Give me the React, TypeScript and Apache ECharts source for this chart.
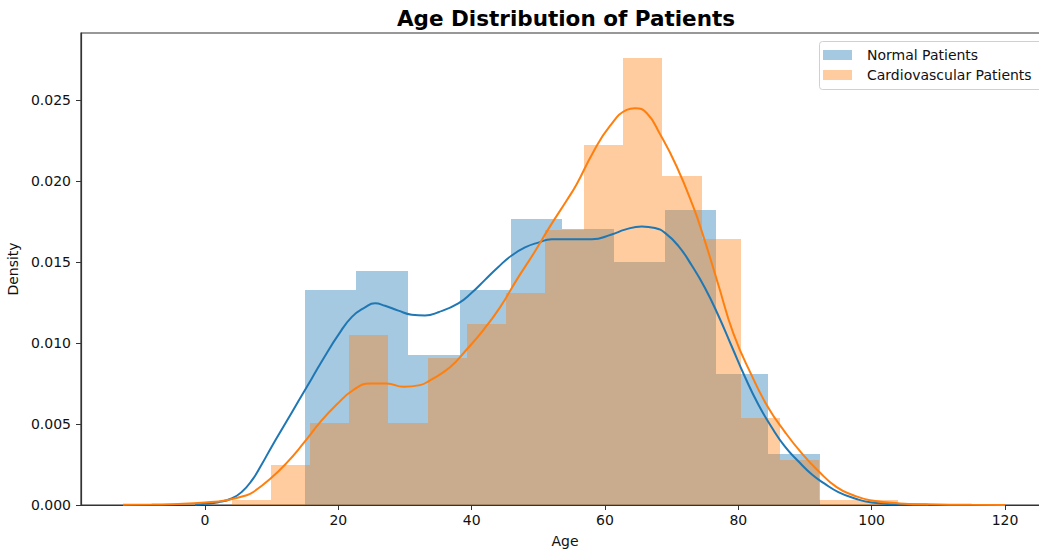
import React, { useEffect, useRef } from "react";
import * as echarts from "echarts";

// ---------- data ----------
const normalEdges = [15.0, 22.7, 30.4, 38.2, 45.9, 53.6, 61.3, 69.0, 76.7, 84.5, 92.2];
const normalDensity = [0.01327, 0.01444, 0.00926, 0.01327, 0.01765, 0.01704, 0.01502, 0.01823, 0.00806, 0.00313];

const cardioEdges = [4.0, 9.9, 15.75, 21.6, 27.5, 33.4, 39.25, 45.1, 51.0, 56.9, 62.75, 68.6, 74.5, 80.4, 86.25, 92.1, 98.0, 103.9];
const cardioDensity = [0.00031, 0.00247, 0.00504, 0.0105, 0.00506, 0.00909, 0.0112, 0.0131, 0.017, 0.0222, 0.0276, 0.0203, 0.0164, 0.0054, 0.0028, 0.00028, 0.00028];

const normalKdeAge = [-1.5, 0, 2, 4, 5.5, 7, 8.5, 10, 12, 14, 16, 18, 20, 22, 24, 25.5, 27, 29, 31, 33, 35, 38, 40, 42, 44, 46, 48, 50, 52, 55, 58, 61, 63, 65.5, 67.5, 69, 71, 73, 75, 77, 79, 81, 83, 85, 87, 89, 91, 93, 95, 97.5, 100, 104, 108.5];
const normalKdeDensity = [0.00003, 0.00007, 0.00017, 0.0004, 0.0008, 0.0015, 0.0025, 0.0036, 0.005, 0.0064, 0.0078, 0.0092, 0.0105, 0.0116, 0.0122, 0.01245, 0.0123, 0.012, 0.01175, 0.0117, 0.0119, 0.01245, 0.0131, 0.0139, 0.0147, 0.0154, 0.0159, 0.0162, 0.0164, 0.0164, 0.0164, 0.0167, 0.017, 0.0172, 0.0171, 0.0168, 0.016, 0.0148, 0.0134, 0.0117, 0.0098, 0.0079, 0.0062, 0.0048, 0.0036, 0.0027, 0.0019, 0.0013, 0.0008, 0.0004, 0.00015, 0.00004, 0.00001];

const cardioKdeAge = [-12.3, -8, -4, 0, 3.25, 6.25, 7.25, 9.75, 12.25, 14.75, 17.25, 19.75, 22.25, 24.75, 27.25, 29.75, 32.25, 33.75, 36.75, 39.25, 41.75, 44.25, 46.75, 49.25, 51.75, 54.25, 55.75, 58.25, 60.75, 63.25, 64.5, 66.25, 68.25, 70.75, 73.25, 74.75, 77, 79.25, 82, 84.5, 87, 89.5, 92, 94.75, 97.25, 99.75, 104.25, 110, 115, 120];
const cardioKdeDensity = [0.00001, 0.00003, 0.00006, 0.00015, 0.0003, 0.0006, 0.0008, 0.0016, 0.0026, 0.0038, 0.0051, 0.0062, 0.0071, 0.0075, 0.0075, 0.0073, 0.0074, 0.0077, 0.0085, 0.0096, 0.0108, 0.0122, 0.0139, 0.0155, 0.0172, 0.0188, 0.0198, 0.0218, 0.0234, 0.0244, 0.0245, 0.0242, 0.0229, 0.0209, 0.0184, 0.0166, 0.0136, 0.0106, 0.008, 0.006, 0.0045, 0.0032, 0.0021, 0.0011, 0.0006, 0.0003, 0.0001, 0.00003, 0.00001, 0.0];

const xTicks = [0, 20, 40, 60, 80, 100, 120];
const yTicks = [0, 0.005, 0.01, 0.015, 0.02, 0.025];

const titleText = "Age Distribution of Patients";
const xName = "Age";
const yName = "Density";
const normalName = "Normal Patients";
const cardioName = "Cardiovascular Patients";

// ---------- styling ----------
const FONT = "DejaVu Sans";
const BLUE = "#1f77b4";
const ORANGE = "#ff7f0e";
const BLUE_FILL = "rgba(31,119,180,0.4)";
const ORANGE_FILL = "rgba(255,127,14,0.4)";
const AXIS = "#333333";

function histData(edges: number[], dens: number[]) {
  return dens.map((d, i) => [edges[i], edges[i + 1], d]);
}

function histSeries(name: string, edges: number[], dens: number[], fill: string) {
  return {
    type: "custom",
    name,
    data: histData(edges, dens),
    encode: { x: [0, 1], y: 2 },
    itemStyle: { color: fill },
    renderItem: (params: any, api: any) => {
      const p0 = api.coord([api.value(0), api.value(2)]);
      const p1 = api.coord([api.value(1), 0]);
      const x0 = Math.round(p0[0]);
      const x1 = Math.round(p1[0]);
      const y0 = Math.round(p0[1]);
      const y1 = Math.round(p1[1]);
      return {
        type: "rect",
        shape: { x: x0, y: y0, width: x1 - x0, height: y1 - y0 },
        style: { fill },
      };
    },
  };
}

function kdeSeries(name: string, ages: number[], dens: number[], color: string) {
  return {
    type: "line",
    name,
    data: ages.map((a, i) => [a, dens[i]]),
    smooth: 0.5,
    showSymbol: false,
    symbol: "none",
    lineStyle: { color, width: 2 },
    itemStyle: { color },
  };
}

export default function App() {
  const ref = useRef<HTMLDivElement>(null);
  useEffect(() => {
    if (!ref.current) return;
    const chart = echarts.init(ref.current, undefined, { renderer: "svg" });
    chart.setOption({
      animation: false,
      backgroundColor: "#ffffff",
      title: {
        text: titleText,
        left: 561,
        top: 2,
        textAlign: "center",
        textStyle: { fontFamily: FONT, fontSize: 21.5, fontWeight: "bold", color: "#000" },
      },
      graphic: [
        {
          type: "rect",
          x: 819.5,
          y: 41.5,
          z: 3,
          shape: { x: 0, y: 0, width: 240, height: 48, r: 3 },
          style: { fill: "rgba(255,255,255,0.8)", stroke: "#d0d0d0", lineWidth: 1 },
          silent: true,
        },
      ],
      legend: {
        data: [
          { name: normalName, itemStyle: { color: BLUE_FILL } },
          { name: cardioName, itemStyle: { color: ORANGE_FILL } },
        ],
        orient: "vertical",
        left: 819,
        top: 41,
        z: 6,
        icon: "rect",
        itemWidth: 29,
        itemHeight: 10,
        itemGap: 6,
        padding: [7, 4, 7, 4],
        backgroundColor: "transparent",
        borderWidth: 0,
        selectedMode: false,
        textStyle: { fontFamily: FONT, fontSize: 14, color: "#111", padding: [0, 0, 0, 10] },
      },
      grid: {
        left: 81,
        top: 33,
        width: 968,
        height: 472,
        outerBoundsMode: "none",
        containLabel: false,
        show: true,
        borderColor: AXIS,
        borderWidth: 1.2,
        backgroundColor: "transparent",
      },
      xAxis: {
        type: "value",
        min: -18.6,
        max: 126.6,
        name: xName,
        nameLocation: "middle",
        nameGap: 29,
        nameTextStyle: { fontFamily: FONT, fontSize: 14, color: "#111" },
        axisLine: { show: true, onZero: false, lineStyle: { color: AXIS, width: 1.2 } },
        axisTick: { show: true, length: 5, lineStyle: { color: AXIS }, customValues: xTicks },
        axisLabel: {
          fontFamily: FONT,
          fontSize: 14,
          color: "#111",
          margin: 8,
          customValues: xTicks,
          formatter: (v: number) => String(v),
        },
        splitLine: { show: false },
      },
      yAxis: {
        type: "value",
        min: 0,
        max: 0.02914,
        name: yName,
        nameLocation: "middle",
        nameGap: 57,
        nameRotate: 90,
        nameTextStyle: { fontFamily: FONT, fontSize: 14, color: "#111" },
        axisLine: { show: true, onZero: false, lineStyle: { color: AXIS, width: 1.2 } },
        axisTick: { show: true, length: 5, lineStyle: { color: AXIS }, customValues: yTicks },
        axisLabel: {
          fontFamily: FONT,
          fontSize: 14,
          color: "#111",
          margin: 10,
          customValues: yTicks,
          formatter: (v: number) => v.toFixed(3),
        },
        splitLine: { show: false },
      },
      series: [
        histSeries(normalName, normalEdges, normalDensity, BLUE_FILL),
        kdeSeries("Normal KDE", normalKdeAge, normalKdeDensity, BLUE),
        histSeries(cardioName, cardioEdges, cardioDensity, ORANGE_FILL),
        kdeSeries("Cardiovascular KDE", cardioKdeAge, cardioKdeDensity, ORANGE),
      ],
    });
    return () => chart.dispose();
  }, []);
  return (
    <div
      ref={ref}
      style={{ position: "absolute", left: 0, top: 0, width: 1039, height: 554 }}
    />
  );
}
